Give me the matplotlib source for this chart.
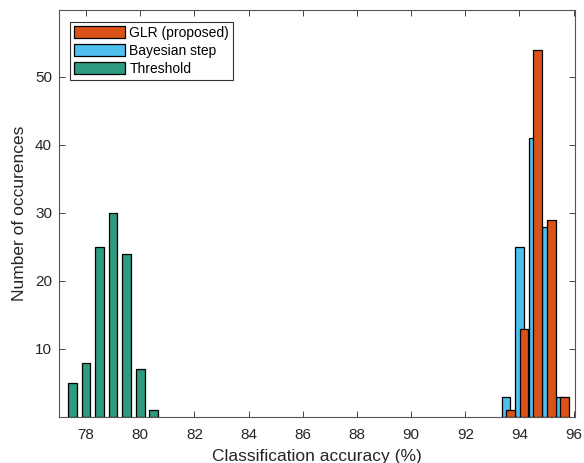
import matplotlib
matplotlib.use('Agg')
import matplotlib.pyplot as plt

plt.rcParams['font.family'] = ['Liberation Sans', 'DejaVu Sans']
plt.rcParams['font.size'] = 10

# histogram bin centres (%) and counts
glr_x = [93.67, 94.17, 94.67, 95.17, 95.67]
glr_n = [1, 13, 54, 29, 3]
bayes_x = [93.5, 94.0, 94.5, 95.0, 95.5]
bayes_n = [3, 25, 41, 28, 3]
thr_x = [77.5, 78.0, 78.5, 79.0, 79.5, 80.0, 80.5]
thr_n = [5, 8, 25, 30, 24, 7, 1]

xticks = [78, 80, 82, 84, 86, 88, 90, 92, 94, 96]
yticks = [10, 20, 30, 40, 50]

c_glr = '#D95319'
c_bayes = '#4DBEEE'
c_thr = '#2E9A7F'
axcol = '#262626'

fig = plt.figure(figsize=(5.84, 4.63), dpi=100)
ax = fig.add_axes([0.101, 0.0994, 0.8836, 0.8786])

w = 0.32
ax.bar(thr_x, thr_n, width=w, color=c_thr, edgecolor='k', linewidth=0.9, label='Threshold', zorder=2)
ax.bar(bayes_x, bayes_n, width=w, color=c_bayes, edgecolor='k', linewidth=0.9, label='Bayesian step', zorder=2)
ax.bar(glr_x, glr_n, width=w, color=c_glr, edgecolor='k', linewidth=0.9, label='GLR (proposed)', zorder=3)

ax.set_xlim(77, 96.05)
ax.set_ylim(0, 59.8)
ax.set_xticks(xticks)
ax.set_yticks(yticks)
ax.tick_params(direction='in', top=True, right=True, length=4, width=0.6,
               colors=axcol, labelsize=11)
ax.tick_params(axis='x', pad=8)
ax.tick_params(axis='y', pad=5)
for s in ax.spines.values():
    s.set_color('#555555')
    s.set_linewidth(0.8)

ax.set_xlabel('Classification accuracy (%)', fontsize=12.5, color=axcol, labelpad=5)
ax.set_ylabel('Number of occurences', fontsize=12.5, color=axcol, labelpad=6)

h, l = ax.get_legend_handles_labels()
order = [2, 1, 0]
leg = ax.legend([h[i] for i in order], [l[i] for i in order], loc='upper left',
                bbox_to_anchor=(0.022, 0.97), fancybox=False, framealpha=1,
                edgecolor='#333333', handlelength=3.7, handleheight=0.95,
                labelspacing=0.3, handletextpad=0.3, borderpad=0.25,
                borderaxespad=0, fontsize=10)
leg.get_frame().set_linewidth(0.8)

fig.savefig('out.png', dpi=100)
